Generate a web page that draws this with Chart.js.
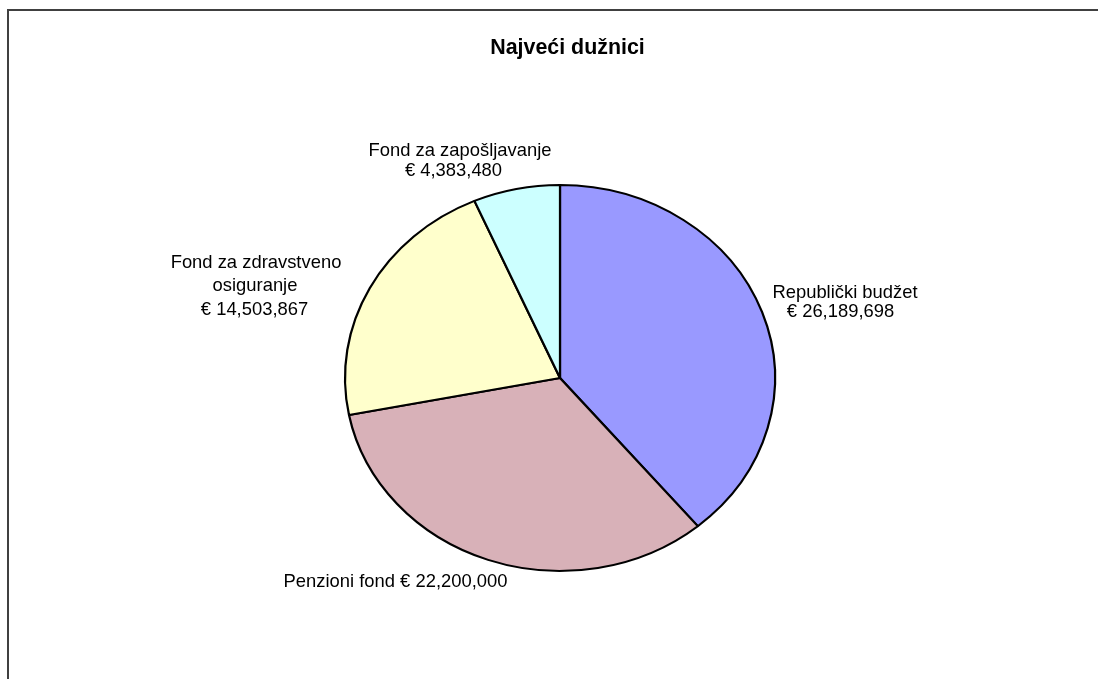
<!DOCTYPE html>
<html>
<head>
<meta charset="utf-8">
<script src="https://cdn.jsdelivr.net/npm/chart.js@4.4.1/dist/chart.umd.min.js"></script>
<style>
  html, body { margin: 0; padding: 0; background: #ffffff; }
  canvas { display: block; }
</style>
</head>
<body>
<canvas id="c" width="1098" height="679"></canvas>
<script>
// ---- data ----
const chartTitle = 'Najveći dužnici';
const categories = ['Republički budžet', 'Penzioni fond', 'Fond za zdravstveno osiguranje', 'Fond za zapošljavanje'];
const values = [26189698, 22200000, 14503867, 4383480];
const sliceColors = ['#9999FF', '#D8B1B8', '#FFFFCC', '#CCFFFF'];

// ---- layout (not data) ----
const FONT = '"Liberation Sans", Arial, Helvetica, sans-serif';
const ELLIPSE_X = 215 / 193; // horizontal stretch of the pie
function fmt(v) { return '€ ' + v.toLocaleString('en-US'); }
const labelLayout = [
  i => [[categories[i], 285, -80], [fmt(values[i]), 280.5, -61]],
  i => [[categories[i] + ' ' + fmt(values[i]), -164.5, 209]],
  i => [['Fond za zdravstveno', -304, -110], ['osiguranje', -305, -87], [fmt(values[i]), -305.5, -63]],
  i => [[categories[i], -100, -222], [fmt(values[i]), -106.5, -202]]
];

const ellipsePlugin = {
  id: 'ellipse',
  beforeDatasetsDraw(chart) {
    const arc = chart.getDatasetMeta(0).data[0];
    const ctx = chart.ctx;
    ctx.save();
    ctx.translate(arc.x, arc.y);
    ctx.scale(ELLIPSE_X, 1);
    ctx.translate(-arc.x, -arc.y);
  },
  afterDatasetsDraw(chart) {
    chart.ctx.restore();
  },
  afterDraw(chart) {
    const ctx = chart.ctx;
    const arc = chart.getDatasetMeta(0).data[0];
    const cx = arc.x, cy = arc.y;
    ctx.save();
    // frame
    ctx.strokeStyle = '#404040';
    ctx.lineWidth = 2;
    ctx.beginPath();
    ctx.moveTo(8, 700);
    ctx.lineTo(8, 10);
    ctx.lineTo(1110, 10);
    ctx.stroke();
    // title
    ctx.fillStyle = '#000';
    ctx.textAlign = 'center';
    ctx.textBaseline = 'alphabetic';
    ctx.font = 'bold 21.4px ' + FONT;
    ctx.fillText(chartTitle, cx + 7.5, 54);
    // slice labels
    ctx.font = '18.4px ' + FONT;
    values.forEach((v, i) => {
      labelLayout[i](i).forEach(([t, dx, dy]) => ctx.fillText(t, cx + dx, cy + dy));
    });
    ctx.restore();
  }
};

new Chart(document.getElementById('c'), {
  type: 'pie',
  data: {
    labels: categories,
    datasets: [{
      data: values,
      backgroundColor: sliceColors,
      borderColor: '#000000',
      borderWidth: 2,
      clip: false
    }]
  },
  options: {
    responsive: false,
    animation: false,
    events: [],
    layout: { padding: { left: 366, right: 344, top: 184, bottom: 107 } },
    plugins: {
      legend: { display: false },
      title: { display: false },
      tooltip: { enabled: false }
    }
  },
  plugins: [ellipsePlugin]
});
</script>
</body>
</html>
